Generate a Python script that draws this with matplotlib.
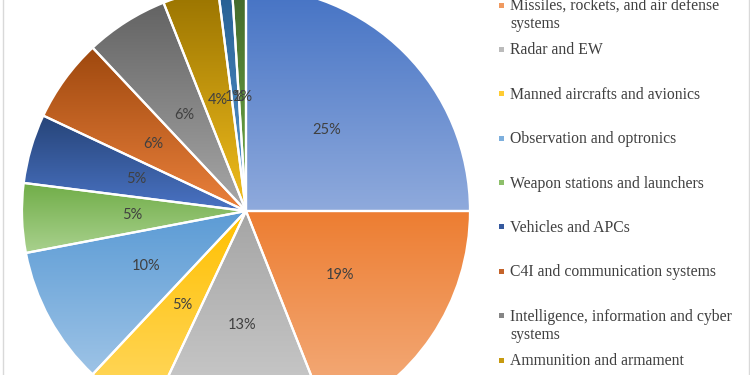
import numpy as np
import matplotlib
matplotlib.use("Agg")
import matplotlib.pyplot as plt
from matplotlib.colors import LinearSegmentedColormap
from matplotlib.lines import Line2D

# ---- data ----
values = [25, 19, 13, 5, 10, 5, 5, 6, 6, 4, 1, 1]
legend_labels = [
    None,  # first category (legend entry cut off above the image)
    "Missiles, rockets, and air defense\nsystems",
    "Radar and EW",
    "Manned aircrafts and avionics",
    "Observation and optronics",
    "Weapon stations and launchers",
    "Vehicles and APCs",
    "C4I and communication systems",
    "Intelligence, information and cyber\nsystems",
    "Ammunition and armament",
    None,  # cut off below the image
    None,
]

# ---- style ----
top_colors = ["#4472C4", "#ED7D31", "#A5A5A5", "#FFC000", "#5B9BD5", "#70AD47",
              "#264478", "#9E480E", "#636363", "#997300", "#255E91", "#43682B"]
bottom_colors = ["#8FAADC", "#F4B183", "#D0D0D0", "#FFD966", "#9DC3E6", "#A9D18E",
                 "#4A73C4", "#EB813C", "#A8A8A8", "#F2BE1E", "#5B9BD5", "#70AD47"]
legend_colors = ["#6A8ED0", "#F09A60", "#BBBBBB", "#FFCC33", "#7DAFDD", "#8DBF6A",
                 "#35599E", "#C4632A", "#858585", "#C79A10", "#3C7DB5", "#5A8A3B"]

W, H = 750, 375
fig = plt.figure(figsize=(7.5, 3.75), dpi=100)
fig.patch.set_facecolor("white")

cx, cy, R = 246, 211, 224  # pixel coords (from top)
ax = fig.add_axes([(cx - R) / W, (H - cy - R) / H, 2 * R / W, 2 * R / H])
ax.set_axis_off()

wedges, texts, autotexts = ax.pie(
    values, startangle=90, counterclock=False, radius=1,
    autopct="%1.0f%%", pctdistance=0.51,
    wedgeprops=dict(edgecolor="white", linewidth=1.6),
    textprops=dict(color="#404040", fontsize=10.5, family=["Lato", "DejaVu Sans"]),
)

grad = np.linspace(0, 1, 256).reshape(-1, 1)
for i, w in enumerate(wedges):
    ext = w.get_path().get_extents()
    cmap = LinearSegmentedColormap.from_list(f"g{i}", [top_colors[i], bottom_colors[i]])
    im = ax.imshow(grad, cmap=cmap, extent=[ext.x0, ext.x1, ext.y0, ext.y1],
                   origin="upper", aspect="auto", zorder=2, interpolation="bilinear")
    im.set_clip_path(w)
    w.set_facecolor("none")
    w.set_zorder(3)
for t in autotexts:
    t.set_zorder(5)

ax.set_xlim(-1, 1)
ax.set_ylim(-1, 1)
ax.set_aspect("equal")

# ---- legend (Excel style, spread vertically) ----
first_y = 5 - 44.4  # centre of first text line of entry 0, pixels from top
step = 44.4
line_h = 18
for i, lab in enumerate(legend_labels):
    if lab is None:
        continue
    yc = first_y + step * i
    for k, line in enumerate(lab.split("\n")):
        fig.text(510 / W, 1 - (yc + 5 + k * line_h) / H, line, ha="left", va="baseline",
                 fontsize=11.3, family="Liberation Serif", color="#404040")
    fig.add_artist(plt.Rectangle((499 / W, 1 - (yc + 2.5) / H), 5 / W, 5 / H,
                                 transform=fig.transFigure, facecolor=legend_colors[i],
                                 edgecolor="none"))

# chart-area border lines
for x in (2.5, 748.5):
    fig.add_artist(Line2D([x / W, x / W], [0, 1], transform=fig.transFigure,
                          color="#D9D9D9", linewidth=1))

fig.savefig("out.png", dpi=100)
